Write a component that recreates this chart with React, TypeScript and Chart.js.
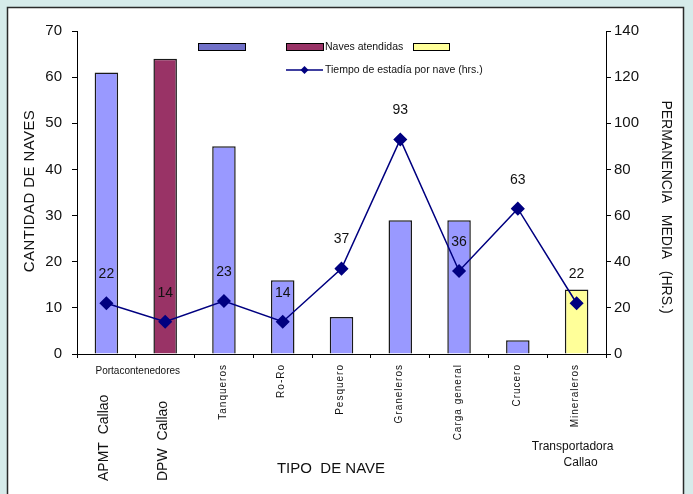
import React, { useEffect, useRef } from "react";
import { Chart, registerables } from "chart.js";

Chart.register(...registerables);

const categories = [
  "APMT Callao",
  "DPW Callao",
  "Tanqueros",
  "Ro-Ro",
  "Pesquero",
  "Graneleros",
  "Carga general",
  "Crucero",
  "Mineraleros",
];
const tickLabels = [
  "APMT  Callao",
  "DPW  Callao",
  "Tanqueros",
  "Ro-Ro",
  "Pesquero",
  "Graneleros",
  "Carga general",
  "Crucero",
  "Mineraleros",
];
const groupLabel = "Portacontenedores";
const subLabelLines = ["Transportadora", "Callao"];
const navesAtendidas = [61, 64, 45, 16, 8, 29, 29, 3, 14];
const tiempoEstadia = [22, 14, 23, 14, 37, 93, 36, 63, 22];
const barColors = [
  "#9999FF",
  "#993366",
  "#9999FF",
  "#9999FF",
  "#9999FF",
  "#9999FF",
  "#9999FF",
  "#9999FF",
  "#FFFF99",
];
const leftTitle = "CANTIDAD DE NAVES";
const rightTitle = "PERMANENCIA   MEDIA   (HRS.)";
const xTitle = "TIPO  DE NAVE";
const legendBar = "Naves atendidas";
const legendLine = "Tiempo de estadía por nave (hrs.)";

const FONT = "'Liberation Sans', Arial, sans-serif";

const framePlugin = {
  id: "frame",
  beforeDraw(chart: any) {
    const { ctx, width, height } = chart;
    ctx.save();
    ctx.fillStyle = "#D6EBEA";
    ctx.fillRect(0, 0, width, height);
    ctx.fillStyle = "#FFFFFF";
    ctx.fillRect(8, 8, 676, height);
    ctx.strokeStyle = "#2a2a2a";
    ctx.lineWidth = 1.5;
    ctx.beginPath();
    ctx.moveTo(7.5, height + 2);
    ctx.lineTo(7.5, 7.5);
    ctx.lineTo(683.5, 7.5);
    ctx.lineTo(683.5, height + 2);
    ctx.stroke();
    ctx.restore();
  },
};

const textPlugin = {
  id: "texts",
  afterDraw(chart: any) {
    const { ctx } = chart;
    const xs = chart.scales.x;
    ctx.save();
    ctx.fillStyle = "#111";

    // data labels for line
    const meta = chart.getDatasetMeta(1);
    ctx.font = `14px ${FONT}`;
    ctx.textAlign = "center";
    ctx.textBaseline = "middle";
    meta.data.forEach((pt: any, i: number) => {
      ctx.fillText(String(tiempoEstadia[i]), pt.x, pt.y - 29);
    });

    // category labels
    tickLabels.forEach((lab, i) => {
      const x = xs.getPixelForValue(i);
      ctx.save();
      if (i < 2) {
        ctx.font = `14px ${FONT}`;
        ctx.translate(x - 2, 481);
        ctx.rotate(-Math.PI / 2);
        ctx.textAlign = "left";
        ctx.textBaseline = "middle";
        ctx.fillText(lab, 0, 0);
      } else {
        ctx.font = `10px ${FONT}`;
        (ctx as any).letterSpacing = "1px";
        ctx.translate(x - 1, 364);
        ctx.rotate(-Math.PI / 2);
        ctx.textAlign = "right";
        ctx.textBaseline = "middle";
        ctx.fillText(lab, 0, 0);
      }
      ctx.restore();
    });

    // group label
    const gx = (xs.getPixelForValue(0) + xs.getPixelForValue(1)) / 2;
    ctx.font = `10px ${FONT}`;
    ctx.textAlign = "center";
    ctx.textBaseline = "middle";
    ctx.fillText(groupLabel, gx + 2, 371);

    // sub label under last category
    const lx = xs.getPixelForValue(categories.length - 1);
    ctx.font = `12px ${FONT}`;
    ctx.fillText(subLabelLines[0], lx - 4, 447);
    ctx.fillText(subLabelLines[1], lx + 4, 463);

    // x title
    ctx.font = `15px ${FONT}`;
    ctx.fillText(xTitle, 331, 469);

    // left title
    ctx.save();
    ctx.font = `15px ${FONT}`;
    (ctx as any).letterSpacing = "0.4px";
    ctx.translate(30, 191);
    ctx.rotate(-Math.PI / 2);
    ctx.fillText(leftTitle, 0, 0);
    ctx.restore();

    // right title
    ctx.save();
    ctx.font = `14px ${FONT}`;
    ctx.translate(666, 207);
    ctx.rotate(Math.PI / 2);
    ctx.fillText(rightTitle, 0, 0);
    ctx.restore();

    // legend
    ctx.lineWidth = 1;
    ctx.strokeStyle = "#000";
    ctx.fillStyle = "#7070C8";
    ctx.fillRect(198.5, 43.5, 47, 7);
    ctx.strokeRect(198.5, 43.5, 47, 7);
    ctx.fillStyle = "#993366";
    ctx.fillRect(286.5, 43.5, 37, 7);
    ctx.strokeRect(286.5, 43.5, 37, 7);
    ctx.fillStyle = "#FFFF99";
    ctx.fillRect(413.5, 43.5, 36, 7);
    ctx.strokeRect(413.5, 43.5, 36, 7);
    ctx.fillStyle = "#111";
    ctx.font = `10.5px ${FONT}`;
    ctx.textAlign = "left";
    ctx.fillText(legendBar, 325, 47);
    ctx.strokeStyle = "#000080";
    ctx.lineWidth = 1.5;
    ctx.beginPath();
    ctx.moveTo(286, 70);
    ctx.lineTo(323, 70);
    ctx.stroke();
    ctx.fillStyle = "#000080";
    ctx.beginPath();
    ctx.moveTo(304.5, 66);
    ctx.lineTo(308.5, 70);
    ctx.lineTo(304.5, 74);
    ctx.lineTo(300.5, 70);
    ctx.closePath();
    ctx.fill();
    ctx.fillStyle = "#111";
    ctx.fillText(legendLine, 325, 70);

    ctx.restore();
  },
};

export default function App() {
  const ref = useRef<HTMLCanvasElement | null>(null);

  useEffect(() => {
    if (!ref.current) return;
    const chart = new Chart(ref.current, {
      type: "bar",
      data: {
        labels: categories,
        datasets: [
          {
            type: "bar",
            label: legendBar,
            data: navesAtendidas,
            backgroundColor: barColors,
            borderColor: "#1a1a1a",
            borderWidth: 1.5,
            barPercentage: 0.4,
            categoryPercentage: 1,
            yAxisID: "y",
            order: 2,
          },
          {
            type: "line",
            label: legendLine,
            data: tiempoEstadia,
            borderColor: "#000080",
            borderWidth: 1.5,
            pointStyle: "rectRot",
            pointRadius: 6,
            pointBackgroundColor: "#000080",
            pointBorderColor: "#000080",
            yAxisID: "y1",
            order: 1,
          },
        ] as any,
      },
      options: {
        responsive: false,
        animation: false,
        layout: { padding: { top: 31, left: 0, right: 0, bottom: 0 } },
        plugins: {
          legend: { display: false },
          tooltip: { enabled: false },
        },
        scales: {
          x: {
            type: "category",
            offset: true,
            ticks: { display: false },
            grid: {
              drawOnChartArea: false,
              drawTicks: true,
              tickLength: 4,
              color: "#000",
              offset: true,
            },
            border: { color: "#000", width: 1 },
            afterFit(scale: any) {
              scale.height = 140;
              scale.paddingLeft = 0;
              scale.paddingRight = 0;
            },
          },
          y: {
            position: "left",
            min: 0,
            max: 70,
            ticks: {
              stepSize: 10,
              color: "#111",
              font: { family: FONT, size: 15 },
              padding: 10,
            },
            grid: {
              drawOnChartArea: false,
              tickLength: 5,
              color: "#000",
            },
            border: { color: "#000", width: 1 },
            afterFit(scale: any) {
              scale.width = 77;
              scale.paddingTop = 0;
              scale.paddingBottom = 0;
            },
          },
          y1: {
            position: "right",
            min: 0,
            max: 140,
            ticks: {
              stepSize: 20,
              color: "#111",
              font: { family: FONT, size: 15 },
              padding: 3,
            },
            grid: {
              drawOnChartArea: false,
              tickLength: 5,
              color: "#000",
            },
            border: { color: "#000", width: 1 },
            afterFit(scale: any) {
              scale.width = 87;
              scale.paddingTop = 0;
              scale.paddingBottom = 0;
            },
          },
        },
      } as any,
      plugins: [framePlugin, textPlugin],
    });
    return () => chart.destroy();
  }, []);

  return (
    <div
      style={{
        position: "fixed",
        left: 0,
        top: 0,
        width: 693,
        height: 494,
        overflow: "hidden",
      }}
    >
      <canvas ref={ref} width={693} height={494} style={{ display: "block" }} />
    </div>
  );
}
